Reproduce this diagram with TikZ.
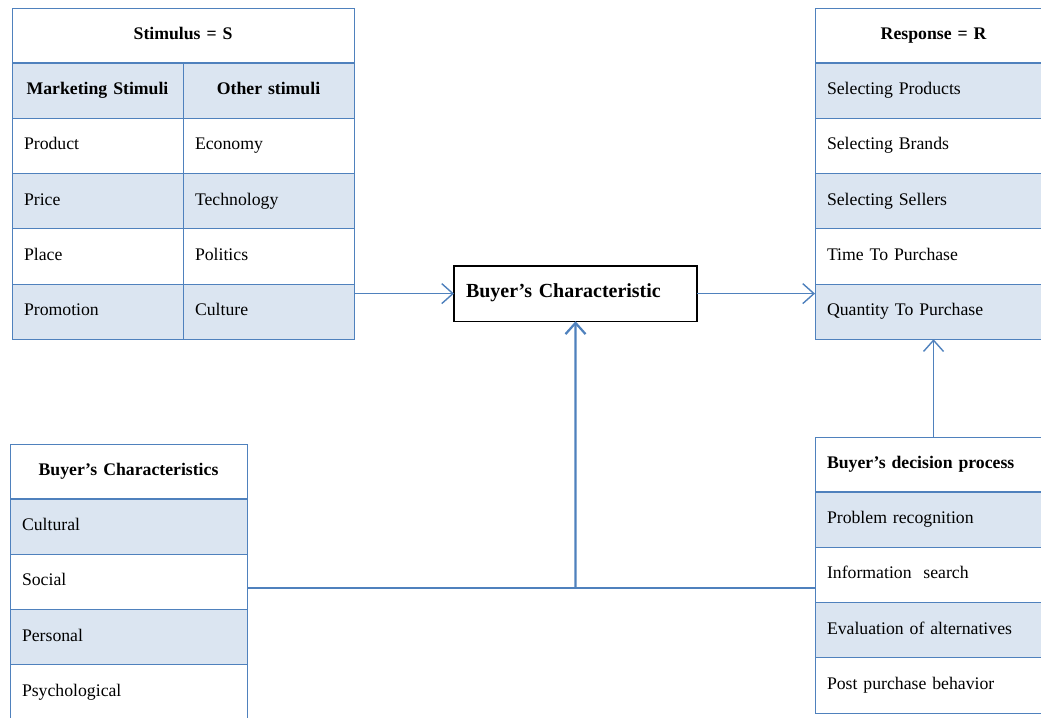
\documentclass[tikz,border=0pt]{standalone}
\usepackage{fontspec}
\setmainfont{Liberation Serif}
\usetikzlibrary{arrows.meta}
\definecolor{tblue}{HTML}{4F81BD}
\definecolor{tshade}{HTML}{DBE5F1}
\tikzset{
  tcell/.style={draw=tblue, line width=0.7pt, anchor=north west, outer sep=0pt,
    minimum height=1.38cm, inner xsep=0.3cm, inner ysep=0pt, align=left,
    text height=1.6ex, text depth=0.4ex, font=\fontsize{12.6}{14}\selectfont},
  thead/.style={tcell, align=center, font=\fontsize{12.6}{14}\selectfont\bfseries},
  hline/.style={draw=tblue, line width=1.8pt},
  link/.style={draw=tblue, line width=1pt},
  arr/.style={link, -{Straight Barb[length=2.8mm,width=5mm]}},
}
\begin{document}
\begin{tikzpicture}[x=0.025cm, y=-0.025cm]
\useasboundingbox (0,0) rectangle (1041,718);
% stimulus table
\node[thead, text width=7.95cm] (s0) at (12,8) {Stimulus = S};
\node[thead, fill=tshade, text width=3.675cm] (sa0) at (12,63.2) {Marketing Stimuli};
\node[thead, fill=tshade, text width=3.675cm] (sb0) at (183,63.2) {Other stimuli};
\foreach \a/\b/\f [count=\i] in {Product/Economy/white, Price/Technology/tshade,
    Place/Politics/white, Promotion/Culture/tshade}{
  \node[tcell, fill=\f, text width=3.675cm] (sa\i) at (12,63.2+55.2*\i) {\a};
  \node[tcell, fill=\f, text width=3.675cm] (sb\i) at (183,63.2+55.2*\i) {\b};
}
\draw[hline] (s0.south west) -- (s0.south east);
%
% response table
\node[thead, text width=5.325cm] (r0) at (815,8) {Response = R};
\foreach \t/\f [count=\i] in {Selecting Products/tshade, Selecting Brands/white,
    Selecting Sellers/tshade, Time To Purchase/white, Quantity To Purchase/tshade}
  \node[tcell, fill=\f, text width=5.325cm] (r\i) at (815,8+55.2*\i) {\t};
\draw[hline] (r0.south west) -- (r0.south east);
%
% buyer's characteristics table
\node[thead, text width=5.325cm] (c0) at (10,444) {Buyer's Characteristics};
\foreach \t/\f [count=\i] in {Cultural/tshade, Social/white, Personal/tshade,
    Psychological/white}
  \node[tcell, fill=\f, text width=5.325cm] (c\i) at (10,444+55.2*\i) {\t};
\draw[hline] (c0.south west) -- (c0.south east);
%
% decision process table
\node[thead, align=left, text width=5.325cm] (d0) at (815,437) {Buyer's decision process};
\foreach \t/\f [count=\i] in {Problem recognition/tshade, Information\ \ search/white,
    Evaluation of alternatives/tshade, Post purchase behavior/white}
  \node[tcell, fill=\f, text width=5.325cm] (d\i) at (815,437+55.2*\i) {\t};
\draw[hline] (d0.south west) -- (d0.south east);
%
% middle box
\node[tcell, draw=black, line width=1pt, text width=5.475cm,
  font=\fontsize{14.2}{16}\selectfont\bfseries] (bc) at (454,266) {Buyer's Characteristic};
%
\draw[arr] (bc.west -| sb4.east) -- (bc.west);
\draw[arr] (bc.east) -- (bc.east -| r5.west);
\coordinate (j) at (575.5,588);
\draw[link, line width=1.6pt] (j -| c2.east) -- (j) -- (j -| d2.west);
\draw[arr, line width=1.6pt] (j) -- (bc.south);
\draw[arr] (d0.north) -- (r5.south);
\end{tikzpicture}
\end{document}
